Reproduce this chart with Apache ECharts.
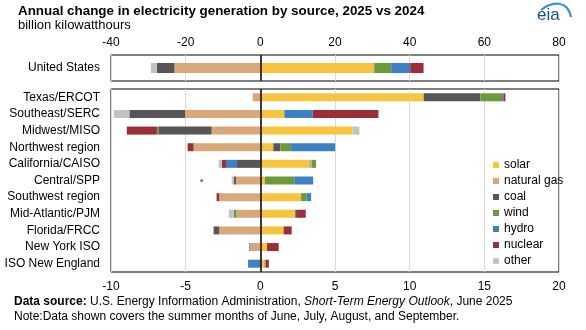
<!DOCTYPE html>
<html><head><meta charset="utf-8">
<script src="https://cdn.jsdelivr.net/npm/echarts@6/dist/echarts.min.js"></script>
<style>html,body{margin:0;padding:0;background:#fff}#c{width:586px;height:330px}</style>
</head><body><div id="c"></div>
<script>
const sources = ['solar','natural gas','coal','wind','hydro','nuclear','other'];
const colors = ['#F7C440','#D8A87B','#565656','#6B9A3B','#3D80C3','#9C2E37','#C2C2C2'];
const usCategory = ['United States'];
const usSolar = [30.5];
const usGas = [-23.0];
const usCoal = [-4.7];
const usWind = [4.55];
const usHydro = [5.1];
const usNuclear = [3.57];
const usOther = [-1.6];
const regions = ['Texas/ERCOT','Southeast/SERC','Midwest/MISO','Northwest region','California/CAISO','Central/SPP','Southwest region','Mid-Atlantic/PJM','Florida/FRCC','New York ISO','ISO New England'];
const regSolar = [10.94, 1.61, 6.18, 0.87, 3.24, 0.31, 2.73, 2.34, 1.56, 0.45, 0.22];
const regGas = [-0.52, -5.04, -3.26, -4.47, 0.2, -1.63, -2.75, -1.6, -2.75, -0.67, 0.1];
const regCoal = [3.8, -3.73, -3.57, 0.47, -1.56, -0.13, 0, 0.12, -0.38, 0, 0];
const regWind = [1.45, 0, -0.1, 0.72, 0.29, 1.96, 0.38, -0.18, 0, 0, 0.05];
const regHydro = [0.09, 1.9, 0, 2.95, -0.74, 1.27, 0.29, 0, 0, -0.07, -0.82];
const regNuclear = [0.13, 4.4, -2.01, -0.4, -0.27, 0, -0.18, 0.58, 0.54, 0.78, 0.2];
const regOther = [0, -1.05, 0.45, 0, -0.22, -0.16, 0, -0.33, 0, 0, 0];
const usTicks = {min: -40, max: 80, interval: 20};
const regTicks = {min: -10, max: 20, interval: 5};
const strayDot = [[-3.93, 'Central/SPP']];

const usData = [usSolar, usGas, usCoal, usWind, usHydro, usNuclear, usOther];
const regData = [regSolar, regGas, regCoal, regWind, regHydro, regNuclear, regOther];
const FONT = 'Liberation Sans, Arial, sans-serif';
const zeroLine = {silent: true, symbol: 'none', label: {show: false}, lineStyle: {color: '#000', width: 1.5, type: 'solid'}, data: [{xAxis: 0}]};

const series = [];
sources.forEach((s, i) => {
  series.push({name: s, type: 'bar', xAxisIndex: 0, yAxisIndex: 0, stack: 'us', barWidth: 10,
    itemStyle: {color: colors[i]}, data: usData[i], markLine: i === 0 ? zeroLine : undefined});
});
sources.forEach((s, i) => {
  series.push({name: s, type: 'bar', xAxisIndex: 1, yAxisIndex: 1, stack: 'reg', barWidth: 8,
    itemStyle: {color: colors[i]}, data: regData[i], markLine: i === 0 ? zeroLine : undefined});
});
series.push({type: 'scatter', xAxisIndex: 1, yAxisIndex: 1, symbolSize: 3, itemStyle: {color: '#E02020'}, data: strayDot, silent: true});

const axisLab = {color: '#000', fontFamily: FONT, fontSize: 12};
const split = {show: true, lineStyle: {color: '#D9D9D9', width: 1}};
const chart = echarts.init(document.getElementById('c'), null, {renderer: 'canvas'});
chart.setOption({
  animation: false,
  backgroundColor: '#fff',
  title: [
    {text: 'Annual change in electricity generation by source, 2025 vs 2024', left: 18, top: 5, padding: 0,
     textStyle: {fontFamily: FONT, fontWeight: 'bold', fontSize: 13.4, color: '#000'}},
    {text: 'billion kilowatthours', left: 18, top: 19, padding: 0,
     textStyle: {fontFamily: FONT, fontWeight: 'normal', fontSize: 13, color: '#000'}},
    {text: '{b|Data source:} U.S. Energy Information Administration, {i|Short-Term Energy Outlook}, June 2025', left: 14, top: 296, padding: 0,
     textStyle: {fontFamily: FONT, fontWeight: 'normal', fontSize: 12, color: '#000',
       rich: {b: {fontFamily: FONT, fontWeight: 'bold', fontSize: 12, color: '#000'}, i: {fontFamily: FONT, fontStyle: 'italic', fontSize: 12, color: '#000'}}}},
    {text: 'Note:Data shown covers the summer months of June, July, August, and September.', left: 14, top: 311, padding: 0,
     textStyle: {fontFamily: FONT, fontWeight: 'normal', fontSize: 12, color: '#000'}}
  ],
  legend: {
    data: sources, orient: 'vertical', left: 488, top: 152, itemWidth: 6, itemHeight: 6, itemGap: 0,
    icon: 'rect', selectedMode: false,
    textStyle: {fontFamily: FONT, fontSize: 12, color: '#000', lineHeight: 16}
  },
  grid: [
    {left: 111, right: 27, top: 55, height: 26, show: true, borderColor: '#000', borderWidth: 1, containLabel: false},
    {left: 111, right: 27, top: 89, height: 183, show: true, borderColor: '#000', borderWidth: 1, containLabel: false}
  ],
  xAxis: [
    {type: 'value', gridIndex: 0, position: 'top', min: usTicks.min, max: usTicks.max, interval: usTicks.interval,
     axisLine: {show: false}, axisTick: {show: false}, splitLine: split, axisLabel: Object.assign({margin: 6}, axisLab)},
    {type: 'value', gridIndex: 1, position: 'bottom', min: regTicks.min, max: regTicks.max, interval: regTicks.interval,
     axisLine: {show: false}, axisTick: {show: false}, splitLine: split, axisLabel: Object.assign({margin: 9}, axisLab)}
  ],
  yAxis: [
    {type: 'category', gridIndex: 0, data: usCategory, axisLine: {show: false}, axisTick: {show: false},
     axisLabel: Object.assign({margin: 11}, axisLab)},
    {type: 'category', gridIndex: 1, data: regions, inverse: true, axisLine: {show: false}, axisTick: {show: false},
     axisLabel: Object.assign({margin: 11}, axisLab)}
  ],
  graphic: [
    {type: 'text', left: 537, top: 7, style: {text: 'eia', fill: '#1E4A8A', font: '17px ' + FONT}},
    {type: 'bezierCurve', shape: {x1: 541, y1: 10, x2: 571, y2: 17, cpx1: 552, cpy1: 1, cpx2: 568, cpy2: 0},
     style: {stroke: '#3A90D2', lineWidth: 2.2, fill: null}}
  ],
  series: series
});
</script></body></html>
